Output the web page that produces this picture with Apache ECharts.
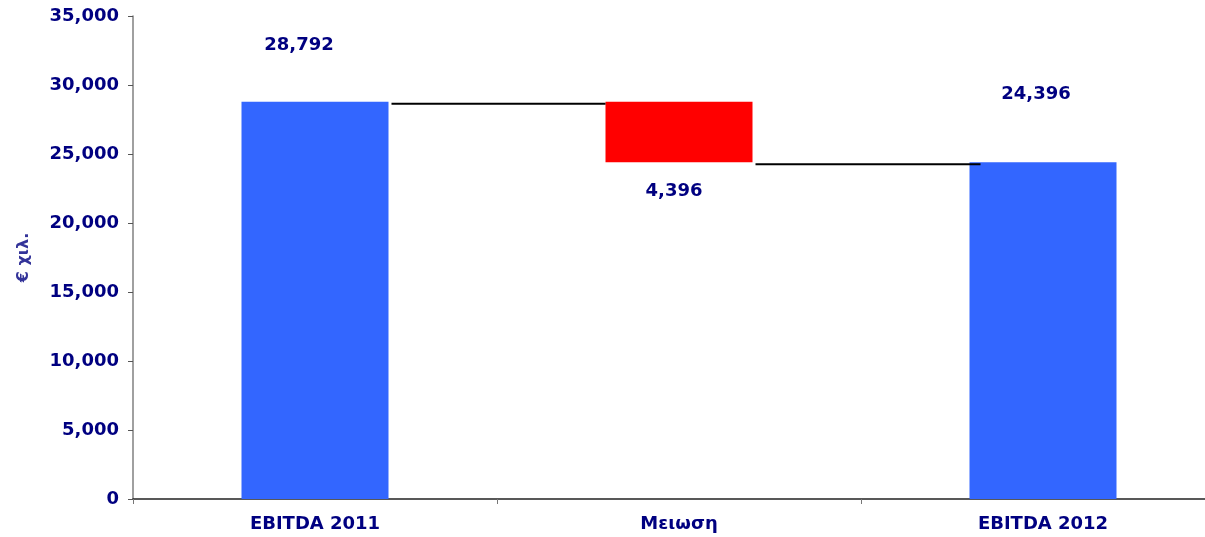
<!DOCTYPE html>
<html>
<head>
<meta charset="utf-8">
<script src="https://cdn.jsdelivr.net/npm/echarts@6/dist/echarts.min.js"></script>
<style>
  html, body { margin: 0; padding: 0; background: #fff; }
  #chart { width: 1205px; height: 537px; }
</style>
</head>
<body>
<div id="chart"></div>
<script>
// data
const categories = ['EBITDA 2011', 'Μειωση', 'EBITDA 2012']
const baseValues = [0, 24396, 0]
const barValues = [28792, 4396, 24396]
const barColors = ['#3366FF', '#FF0000', '#3366FF']
// connectors: [from category index, level]
const connectors = [[0, 28792], [1, 24396]]

const navy = '#000080'
const font = 'DejaVu Sans'

// label placement tweaks (excel puts them a bit off centre)
const labelLayout = [
  { position: 'top', distance: 47, offset: [-16, 0] },
  { position: 'bottom', distance: 20, offset: [-5, 0] },
  { position: 'top', distance: 59, offset: [-7, 0] }
]

const chart = echarts.init(document.getElementById('chart'))

const option = {
  animation: false,
  grid: { left: 133, top: 16, width: 1092, height: 483, outerBoundsMode: 'none', containLabel: false },
  xAxis: {
    type: 'category',
    data: categories,
    axisLine: { lineStyle: { color: '#222', width: 1.5 } },
    axisTick: { show: true, length: 5, lineStyle: { color: '#777' } },
    axisLabel: { color: navy, fontFamily: font, fontWeight: 'bold', fontSize: 18, margin: 16 }
  },
  yAxis: {
    type: 'value',
    min: 0,
    max: 35000,
    interval: 5000,
    name: '€ χιλ.',
    nameLocation: 'middle',
    nameGap: 101,
    nameRotate: 90,
    nameTextStyle: { color: '#333399', fontFamily: font, fontWeight: 'bold', fontSize: 16 },
    splitLine: { show: false },
    axisLine: { show: true, lineStyle: { color: '#808080', width: 1.5 } },
    axisTick: { show: true, length: 5, lineStyle: { color: '#555' } },
    axisLabel: {
      color: navy, fontFamily: font, fontWeight: 'bold', fontSize: 18, margin: 14,
      formatter: v => v.toLocaleString('en-US')
    }
  },
  series: [
    {
      type: 'bar',
      stack: 'w',
      barWidth: 147,
      itemStyle: { color: 'transparent' },
      data: baseValues,
      silent: true
    },
    {
      type: 'bar',
      stack: 'w',
      barWidth: 147,
      data: barValues.map((v, i) => ({
        value: v,
        itemStyle: { color: barColors[i] },
        label: labelLayout[i]
      })),
      label: {
        show: true,
        color: navy,
        fontFamily: font,
        fontWeight: 'bold',
        fontSize: 18,
        formatter: p => p.value.toLocaleString('en-US')
      }
    },
    {
      type: 'custom',
      silent: true,
      data: connectors,
      renderItem: (params, api) => {
        const idx = api.value(0)
        const level = api.value(1)
        const start = api.coord([idx, level])
        const end = api.coord([idx + 1, level])
        return {
          type: 'line',
          shape: { x1: start[0] + 147 / 2 + 3, y1: start[1] + 2, x2: end[0] - 147 / 2 + (idx === 1 ? 11 : 0), y2: end[1] + 2 },
          style: { stroke: '#000', lineWidth: 2 }
        }
      },
      z: 5
    }
  ]
}

chart.setOption(option)
</script>
</body>
</html>
